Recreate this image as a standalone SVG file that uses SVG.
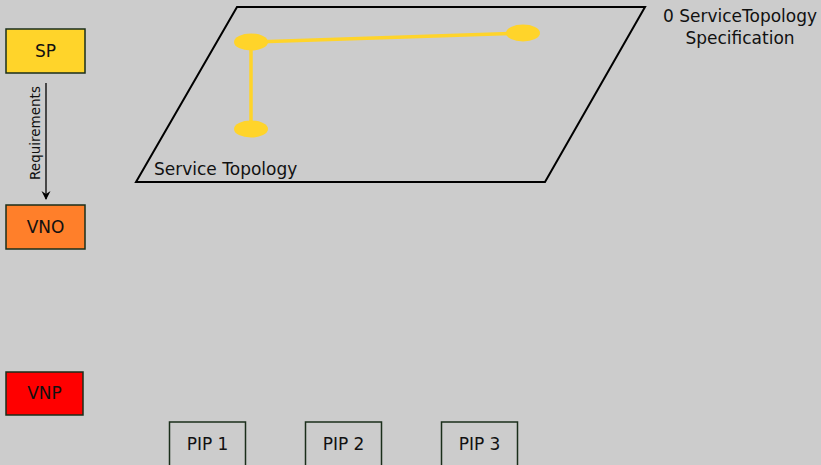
<svg xmlns="http://www.w3.org/2000/svg" width="821" height="465" viewBox="0 0 821 465">
<defs>
<style>
text{font-family:"DejaVu Sans",sans-serif;font-size:17px;fill:#111}
.box{stroke:#1a2e1a;stroke-width:1.5}
.node{fill:#ffd42a}
.edge{stroke:#ffd42a;stroke-width:3.5;fill:none}
</style>
<marker id="ah" markerWidth="10" markerHeight="12" refX="8" refY="6" orient="auto" markerUnits="userSpaceOnUse">
<path d="M0,1.5 L9,6 L0,10.5 L3,6 Z" fill="#000"/>
</marker>
</defs>
<rect width="821" height="465" fill="#cccccc"/>
<g id="plane">
<polygon points="237,7 645,7 545,182 136,182" fill="none" stroke="#000" stroke-width="2"/>
<text x="154" y="175">Service Topology</text>
</g>
<g id="connectors">
<line x1="46" y1="83" x2="46" y2="199" stroke="#000" stroke-width="1.3" marker-end="url(#ah)"/>
<text transform="translate(40,133) rotate(-90)" text-anchor="middle" style="font-size:13.5px">Requirements</text>
<line class="edge" x1="251" y1="42" x2="523" y2="33"/>
<line class="edge" x1="251" y1="48" x2="251" y2="126"/>
</g>
<g id="topo-nodes">
<ellipse class="node" cx="251" cy="42" rx="17" ry="8.5"/>
<ellipse class="node" cx="523" cy="33" rx="17" ry="8.5"/>
<ellipse class="node" cx="251" cy="129" rx="17" ry="8.5"/>
</g>
<g id="label-spec">
<text x="740" y="22" text-anchor="middle">0 ServiceTopology</text>
<text x="740" y="44" text-anchor="middle">Specification</text>
</g>
<g id="SP">
<rect class="box" x="6" y="29" width="79" height="44" fill="#ffd42a"/>
<text x="45.5" y="57" text-anchor="middle">SP</text>
</g>
<g id="VNO">
<rect class="box" x="6" y="205" width="79" height="44" fill="#ff7f2a"/>
<text x="45.5" y="233" text-anchor="middle">VNO</text>
</g>
<g id="VNP">
<rect class="box" x="6" y="372" width="77" height="43" fill="#ff0000"/>
<text x="44.5" y="399" text-anchor="middle">VNP</text>
</g>
<g id="PIP1">
<rect class="box" x="169.5" y="422" width="76" height="50" fill="none"/>
<text x="207.5" y="450" text-anchor="middle">PIP 1</text>
</g>
<g id="PIP2">
<rect class="box" x="305.5" y="422" width="76" height="50" fill="none"/>
<text x="343.5" y="450" text-anchor="middle">PIP 2</text>
</g>
<g id="PIP3">
<rect class="box" x="441.5" y="422" width="76" height="50" fill="none"/>
<text x="479.5" y="450" text-anchor="middle">PIP 3</text>
</g>
</svg>
